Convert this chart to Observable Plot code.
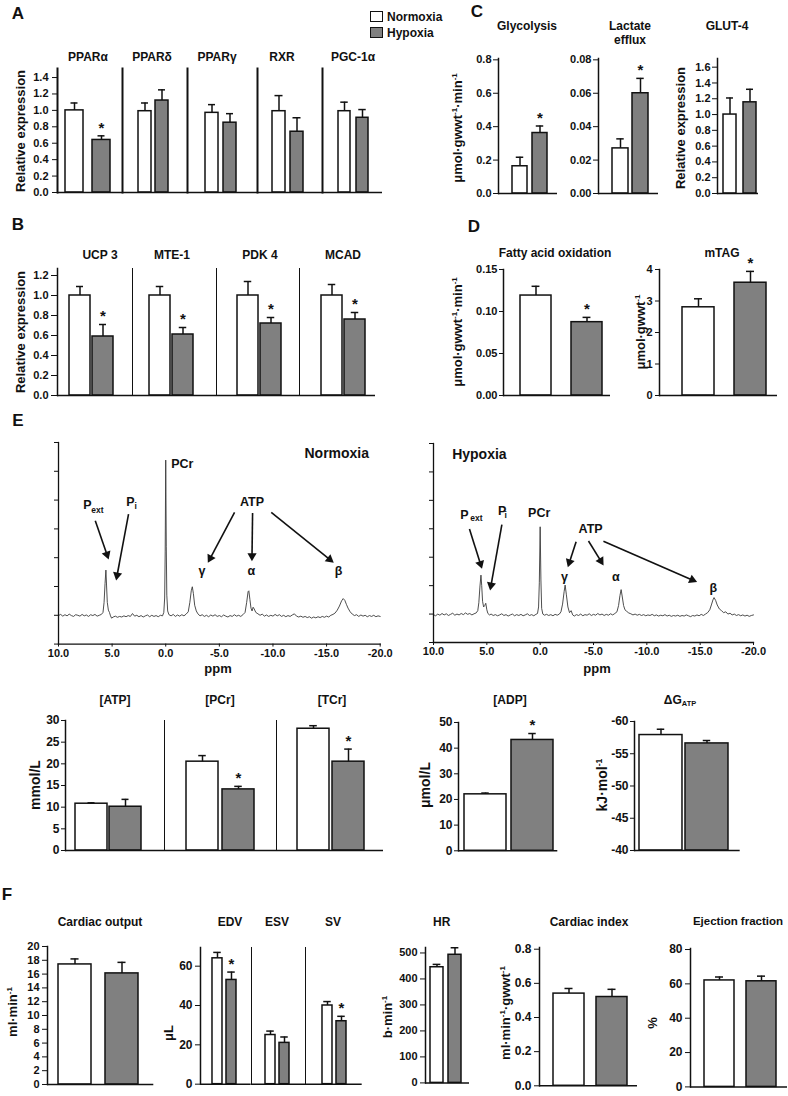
<!DOCTYPE html>
<html><head><meta charset="utf-8">
<script src="https://cdn.jsdelivr.net/npm/d3@7"></script>
<script src="https://cdn.jsdelivr.net/npm/@observablehq/plot@0.6"></script>
<style>
html,body{margin:0;padding:0;background:#fff;}
#page{position:relative;width:788px;height:1096px;overflow:hidden;background:#fff;font-family:"Liberation Sans",Arial,Helvetica,sans-serif;color:#111;}
.t{position:absolute;white-space:nowrap;font-weight:bold;line-height:1;}
.t sup{font-size:0.62em;vertical-align:0.55em;line-height:0;}
.t sub{font-size:0.62em;vertical-align:-0.25em;line-height:0;}
#page svg{position:absolute;}
.box{position:absolute;border:1px solid #111;box-sizing:border-box;}
</style></head><body><div id="page"></div>
<script>
const GROUPS = ["Normoxia", "Hypoxia"];

// ---------- Panel A : nuclear receptors (relative expression)
const A_labels = ["PPARα", "PPARδ", "PPARγ", "RXR", "PGC-1α"];
const A_norm = [1.00, 0.99, 0.97, 0.99, 0.99];
const A_normSem = [0.09, 0.10, 0.10, 0.19, 0.11];
const A_hyp = [0.64, 1.12, 0.85, 0.74, 0.91];
const A_hypSem = [0.05, 0.13, 0.11, 0.17, 0.10];
const A_sig = [true, false, false, false, false];
const A_ticks = [0, 0.2, 0.4, 0.6, 0.8, 1.0, 1.2, 1.4];

// ---------- Panel B : PPARα targets
const B_labels = ["UCP 3", "MTE-1", "PDK 4", "MCAD"];
const B_norm = [1.00, 1.00, 1.00, 1.00];
const B_normSem = [0.09, 0.09, 0.14, 0.11];
const B_hyp = [0.59, 0.61, 0.72, 0.76];
const B_hypSem = [0.12, 0.07, 0.06, 0.07];
const B_sig = [true, true, true, true];
const B_ticks = [0, 0.2, 0.4, 0.6, 0.8, 1.0, 1.2];

// ---------- Panel C
const C_labels = ["Glycolysis", "Lactate efflux", "GLUT-4"];
const C_norm = [0.163, 0.027, 1.00];
const C_normSem = [0.054, 0.0057, 0.21];
const C_hyp = [0.362, 0.060, 1.155];
const C_hypSem = [0.042, 0.0089, 0.165];
const C_sig = [true, true, false];
const C_ticksGly = [0, 0.2, 0.4, 0.6, 0.8];
const C_ticksLac = [0, 0.02, 0.04, 0.06, 0.08];
const C_ticksGlut = [0, 0.2, 0.4, 0.6, 0.8, 1.0, 1.2, 1.4, 1.6];

// ---------- Panel D
const D_labels = ["Fatty acid oxidation", "mTAG"];
const D_norm = [0.119, 2.80];
const D_normSem = [0.011, 0.27];
const D_hyp = [0.0873, 3.58];
const D_hypSem = [0.0057, 0.36];
const D_sig = [true, true];
const D_ticksFao = [0, 0.05, 0.10, 0.15];
const D_ticksTag = [0, 1, 2, 3, 4];

// ---------- Panel E : 31P spectra (ppm, intensity pairs)
const E_specNorm = [
10.0,0.99, 9.8,1.03, 9.6,0.97, 9.4,1.02, 9.2,0.98, 9.0,1.04, 8.8,0.99, 8.6,0.96, 8.4,1.02, 8.2,1.00, 8.0,0.97, 7.8,1.03, 7.6,0.98, 7.4,1.01, 7.2,0.96, 7.0,1.02, 6.8,0.99, 6.6,1.03, 6.4,0.97, 6.2,1.00, 6.0,1.03, 5.85,1.10, 5.75,1.45, 5.66,2.10, 5.58,2.57, 5.52,2.05, 5.45,1.45, 5.35,1.18, 5.25,1.10, 5.15,0.98, 5.05,0.90, 4.9,0.94, 4.7,0.97, 4.5,0.93, 4.3,0.96, 4.1,0.94, 3.9,0.98, 3.7,0.95, 3.5,0.99, 3.3,0.96, 3.1,1.06, 2.9,0.97, 2.7,1.00, 2.5,0.95, 2.3,0.99, 2.1,0.94, 1.9,0.98, 1.7,1.01, 1.5,0.95, 1.3,1.00, 1.1,0.96, 0.9,0.99, 0.7,0.95, 0.5,1.00, 0.3,0.98, 0.18,1.10, 0.1,1.6, 0.05,3.2, 0.0,6.39, -0.05,3.4, -0.1,1.7, -0.18,1.15, -0.3,1.02, -0.5,0.98, -0.7,1.03, -0.9,0.96, -1.1,1.01, -1.3,0.97, -1.5,1.02, -1.7,0.98, -1.9,1.04, -2.1,1.12, -2.25,1.45, -2.38,1.85, -2.48,1.99, -2.58,1.75, -2.7,1.35, -2.85,1.15, -3.0,1.05, -3.2,0.98, -3.4,1.02, -3.6,0.96, -3.8,1.00, -4.0,0.95, -4.2,1.01, -4.4,0.97, -4.6,1.02, -4.8,0.96, -5.0,0.99, -5.2,0.95, -5.4,1.01, -5.6,0.97, -5.8,0.94, -6.0,0.99, -6.2,0.96, -6.4,1.02, -6.6,0.97, -6.8,1.00, -7.0,0.96, -7.2,1.02, -7.4,1.10, -7.55,1.45, -7.68,1.82, -7.75,1.85, -7.85,1.55, -7.95,1.25, -8.05,1.15, -8.15,1.28, -8.25,1.22, -8.4,1.10, -8.6,1.05, -8.8,1.00, -9.0,1.04, -9.2,0.97, -9.4,1.01, -9.6,0.96, -9.8,1.00, -10.0,0.97, -10.2,1.03, -10.4,0.98, -10.6,1.02, -10.8,0.96, -11.0,1.00, -11.2,0.95, -11.4,0.99, -11.6,0.96, -11.8,1.01, -12.0,1.05, -12.2,0.97, -12.4,0.94, -12.6,0.97, -12.8,0.93, -13.0,0.96, -13.2,0.92, -13.4,0.95, -13.6,0.90, -13.8,0.94, -14.0,0.91, -14.2,0.95, -14.4,0.92, -14.6,0.96, -14.8,0.93, -15.0,0.97, -15.2,0.94, -15.4,1.00, -15.6,1.03, -15.8,1.08, -16.0,1.18, -16.2,1.32, -16.4,1.50, -16.55,1.58, -16.7,1.52, -16.85,1.38, -17.0,1.25, -17.2,1.12, -17.4,1.04, -17.6,0.99, -17.8,1.02, -18.0,0.96, -18.2,1.01, -18.4,0.97, -18.6,1.00, -18.8,0.95, -19.0,0.99, -19.2,0.96, -19.4,1.00, -19.6,0.95, -19.8,0.98, -20.0,0.96
];
const E_specHyp = [
10.0,0.98, 9.8,0.94, 9.6,1.00, 9.4,0.96, 9.2,1.02, 9.0,0.97, 8.8,1.01, 8.6,0.95, 8.4,0.99, 8.2,1.03, 8.0,0.96, 7.8,1.00, 7.6,0.97, 7.4,1.02, 7.2,0.98, 7.0,1.04, 6.8,0.99, 6.6,1.02, 6.4,0.97, 6.2,1.01, 6.0,1.04, 5.85,1.12, 5.75,1.40, 5.65,1.95, 5.55,2.37, 5.48,2.00, 5.4,1.45, 5.3,1.25, 5.2,1.30, 5.1,1.38, 5.0,1.15, 4.9,1.02, 4.75,0.97, 4.6,1.00, 4.4,0.95, 4.2,0.98, 4.0,0.94, 3.8,0.97, 3.6,1.01, 3.4,0.95, 3.2,0.98, 3.0,0.93, 2.8,0.97, 2.6,1.00, 2.4,0.94, 2.2,0.98, 2.0,0.95, 1.8,0.99, 1.6,0.94, 1.4,0.97, 1.2,1.01, 1.0,0.95, 0.8,0.98, 0.6,0.94, 0.4,0.99, 0.25,1.02, 0.15,1.25, 0.08,2.1, 0.0,4.07, -0.07,2.2, -0.14,1.2, -0.25,1.00, -0.4,0.96, -0.6,0.99, -0.8,0.95, -1.0,0.98, -1.2,0.94, -1.4,0.99, -1.6,0.96, -1.8,1.00, -1.95,1.08, -2.1,1.35, -2.25,1.80, -2.34,2.02, -2.45,1.70, -2.6,1.25, -2.75,1.05, -2.9,1.12, -3.05,0.97, -3.2,0.93, -3.4,0.98, -3.6,0.95, -3.8,1.00, -4.0,0.94, -4.2,0.98, -4.4,0.96, -4.6,1.01, -4.8,0.95, -5.0,0.99, -5.2,0.96, -5.4,1.02, -5.6,0.97, -5.8,1.00, -6.0,0.95, -6.2,0.99, -6.4,0.96, -6.6,1.01, -6.8,0.97, -7.0,1.02, -7.2,1.08, -7.35,1.30, -7.48,1.65, -7.59,1.86, -7.7,1.60, -7.82,1.30, -7.95,1.15, -8.1,1.10, -8.3,1.04, -8.5,1.01, -8.7,0.97, -8.9,1.00, -9.1,0.96, -9.3,0.99, -9.5,0.95, -9.7,0.98, -9.9,0.94, -10.1,0.97, -10.3,0.95, -10.5,0.99, -10.7,0.94, -10.9,0.97, -11.1,0.93, -11.3,0.96, -11.5,0.94, -11.7,0.98, -11.9,0.93, -12.1,0.96, -12.3,0.92, -12.5,0.95, -12.7,0.93, -12.9,0.96, -13.1,0.92, -13.3,0.95, -13.5,0.93, -13.7,0.97, -13.9,0.94, -14.1,0.91, -14.3,0.95, -14.5,0.93, -14.7,0.97, -14.9,0.94, -15.1,0.99, -15.3,0.95, -15.5,1.00, -15.7,1.05, -15.9,1.15, -16.05,1.32, -16.2,1.50, -16.3,1.58, -16.45,1.48, -16.6,1.32, -16.8,1.18, -17.0,1.12, -17.2,1.05, -17.4,1.08, -17.6,1.00, -17.8,1.03, -18.0,0.97, -18.2,1.00, -18.4,0.95, -18.6,0.98, -18.8,0.94, -19.0,0.97, -19.2,0.93, -19.4,0.96, -19.6,0.92, -19.8,0.95, -20.0,0.97
];
const E_ppmTicks = [10, 5, 0, -5, -10, -15, -20];
// annotations in data units: [text, ppm, intensity]
const E_annNorm = [["Normoxia",-15.95,6.61],["PCr",-0.51,6.27],["P",7.70,4.83],["ext",6.95,4.63],["P",3.68,4.92],["i",2.91,4.80],["ATP",-8.04,4.94],["γ",-3.38,2.55],["α",-7.98,2.55],["β",-16.12,2.55]];
const E_arrNorm = [[6.57,4.28,5.33,2.95],[3.47,4.51,4.62,2.22],[-6.42,4.57,-3.94,2.83],[-8.10,4.55,-8.04,2.89],[-9.84,4.57,-15.65,2.83]];
const E_annHyp = [["Hypoxia",8.25,6.61],["PCr",0.09,4.57],["P",7.50,4.50],["ext",6.56,4.36],["P",3.96,4.61],["i",3.35,4.48],["ATP",-4.73,3.99],["γ",-2.28,2.29],["α",-7.09,2.29],["β",-16.24,1.90]];
const E_arrHyp = [[6.63,3.99,5.46,2.60],[3.59,4.15,4.69,1.84],[-3.37,3.54,-2.60,2.66],[-4.53,3.57,-5.93,2.72],[-5.93,3.56,-14.69,2.13]];

// ---------- Panel E : metabolites
const E_labels = ["[ATP]", "[PCr]", "[TCr]", "[ADP]", "ΔG ATP"];
const E_norm = [10.8, 20.5, 28.1, 22.0, -57.9];
const E_normSem = [0.2, 1.4, 0.7, 0.5, 0.9];
const E_hyp = [10.1, 14.1, 20.5, 43.2, -56.6];
const E_hypSem = [1.7, 0.7, 2.9, 2.5, 0.45];
const E_sig = [false, true, true, true, false];
const E_ticksMM = [0, 5, 10, 15, 20, 25, 30];
const E_ticksADP = [0, 10, 20, 30, 40, 50];
const E_ticksG = [-60, -55, -50, -45, -40];

// ---------- Panel F : cardiac function
const F_labels = ["Cardiac output", "EDV", "ESV", "SV", "HR", "Cardiac index", "Ejection fraction"];
const F_norm = [17.4, 64, 25, 40, 445, 0.54, 62];
const F_normSem = [0.8, 3, 2, 2, 11, 0.03, 2];
const F_hyp = [16.1, 53, 21, 32, 493, 0.52, 61.5];
const F_hypSem = [1.6, 4, 3, 2.5, 27, 0.045, 3];
const F_sig = [false, true, false, true, false, false, false];
const F_ticksCO = [0, 2, 4, 6, 8, 10, 12, 14, 16, 18, 20];
const F_ticksV = [0, 20, 40, 60];
const F_ticksHR = [0, 100, 200, 300, 400, 500];
const F_ticksCI = [0, 0.2, 0.4, 0.6, 0.8];
const F_ticksEF = [0, 20, 40, 60, 80];

// =================== drawing ===================
const page = document.getElementById("page");
const FONT = '"Liberation Sans", Arial, Helvetica, sans-serif';
const INK = "#111";
const GRAY = "#808080";

function label(html, x, y, size, rot = false, anchor = "middle") {
  const d = document.createElement("div");
  d.className = "t";
  d.innerHTML = html;
  d.style.left = x + "px";
  d.style.top = y + "px";
  d.style.fontSize = size + "px";
  let tr = anchor === "start" ? "translate(0,-50%)" : "translate(-50%,-50%)";
  if (rot) tr += " rotate(-90deg)";
  d.style.transform = tr;
  page.appendChild(d);
}
function box(x, y, w, h, fill) {
  const d = document.createElement("div");
  d.className = "box";
  Object.assign(d.style, {left: x + "px", top: y + "px", width: w + "px", height: h + "px", background: fill});
  page.appendChild(d);
}
function rows(norm, normSem, hyp, hypSem, sig, i, dir = 1) {
  return [
    {g: GROUPS[0], v: norm[i], hi: norm[i] + dir * normSem[i], sig: false},
    {g: GROUPS[1], v: hyp[i], hi: hyp[i] + dir * hypSem[i], sig: sig[i]}
  ];
}
function place(svg, left, top) {
  svg.style.left = left + "px";
  svg.style.top = top + "px";
  page.appendChild(svg);
}
function barGroup(L, data) {
  const mL = L.ticks ? 48 : 2, mR = 2, mT = 40, mB = 2;
  const left = L.x0 - mL, top = L.yT - mT;
  const width = L.x1 - L.x0 + mL + mR, height = L.yB - L.yT + mT + mB;
  const step = (L.range[1] - L.range[0]) / (2 - L.pad);
  const bw = step * (1 - L.pad);
  const inset = Math.max(0, (bw - 8) / 2);
  const base = L.domain[0];
  const marks = [
    Plot.barY(data, {x: "g", y1: base, y2: "v", fill: d => d.g === GROUPS[0] ? "#ffffff" : GRAY, stroke: INK, strokeWidth: 1.5}),
    Plot.ruleX(data, {x: "g", y1: "v", y2: "hi", stroke: INK, strokeWidth: 1.5}),
    Plot.tickY(data, {x: "g", y: "hi", stroke: INK, strokeWidth: 1.5, insetLeft: inset, insetRight: inset}),
    Plot.text(data.filter(d => d.sig), {x: "g", y: "hi", text: () => "*", dy: -8, fontSize: 15, fontWeight: "bold", fill: INK}),
    Plot.frame({anchor: "left", stroke: INK, strokeWidth: L.lw || 1.5}),
    Plot.ruleY([base], {stroke: INK, strokeWidth: 1.5})
  ];
  if (L.ticks) marks.push(Plot.axisY({ticks: L.ticks, tickFormat: L.fmt, tickSize: L.ts ?? 5, tickPadding: L.tp ?? 3, label: null, fontSize: L.fs ?? 11}));
  const svg = Plot.plot({
    width, height, marginLeft: mL, marginRight: mR, marginTop: mT, marginBottom: mB,
    x: {type: "band", domain: GROUPS, range: [L.range[0] - left, L.range[1] - left], paddingInner: L.pad, paddingOuter: 0, align: 0.5, axis: null},
    y: L.ticks ? {domain: L.domain} : {domain: L.domain, axis: null},
    style: {background: "transparent", overflow: "visible", fontFamily: FONT, fontWeight: "bold", fontSize: (L.fs ?? 11) + "px", color: INK},
    marks
  });
  place(svg, left, top);
}
function spectrum(L, flat, ann, arr) {
  const pts = [];
  for (let i = 0; i < flat.length; i += 2) pts.push({ppm: flat[i], y: flat[i + 1]});
  const mL = 12, mR = 20, mT = 12, mB = 30;
  const left = L.x0 - mL, top = L.yT - mT;
  const fw = L.x1 - L.x0, fh = L.yB - L.yT;
  const width = fw + mL + mR, height = fh + mT + mB;
  const kx = fw / 30, ky = fh / 7;     // pixels per ppm / per intensity unit
  const headBack = 5;                 // triangle centroid sits behind the tip
  const arrows = arr.map(([x1, y1, x2, y2]) => {
    const dxp = -(x2 - x1) * kx, dyp = -(y2 - y1) * ky;
    const len = Math.hypot(dxp, dyp), ux = dxp / len, uy = dyp / len;
    return {x1, y1, x2, y2,
      hx: x2 + headBack * ux / kx, hy: y2 + headBack * uy / ky,
      rot: Math.atan2(ux, -uy) * 180 / Math.PI};
  });
  const sizeOf = t => (t === "Normoxia" || t === "Hypoxia") ? 14 : (t === "ext" || t === "i") ? 8.5 : 12.5;
  const anchorOf = t => (t === "Normoxia" || t === "γ" || t === "α" || t === "β" || t === "ATP" || (t === "PCr" && L.pcrMid)) ? "middle" : "start";
  const marks = [
    Plot.line(pts, {x: "ppm", y: "y", stroke: "#3a3a3a", strokeWidth: 0.9}),
    Plot.link(arrows, {x1: "x1", y1: "y1", x2: "hx", y2: "hy", stroke: INK, strokeWidth: 1.6}),
    Plot.dot(arrows, {x: "hx", y: "hy", symbol: "triangle", r: 3.4, fill: INK, stroke: "none", rotate: "rot"}),
    Plot.frame({anchor: "left", stroke: INK, strokeWidth: 1.3}),
    Plot.frame({anchor: "bottom", stroke: INK, strokeWidth: 1.3}),
    Plot.axisX({ticks: E_ppmTicks, tickFormat: d => d.toFixed(1), tickSize: 3, tickPadding: 2, label: null, fontSize: 11}),
    Plot.axisY({ticks: d3.range(0, 8), tickFormat: () => "", tickSize: 4, label: null})
  ];
  ann.forEach(([t, x, y]) => {
    marks.push(Plot.text([{t, x, y}], {x: "x", y: "y", text: "t", fontSize: sizeOf(t), fontWeight: "bold", textAnchor: anchorOf(t), fill: INK}));
  });
  const svg = Plot.plot({
    width, height, marginLeft: mL, marginRight: mR, marginTop: mT, marginBottom: mB,
    x: {domain: [10, -20]}, y: {domain: [0, 7]},
    style: {background: "transparent", overflow: "visible", fontFamily: FONT, fontWeight: "bold", fontSize: "11px", color: INK},
    marks
  });
  place(svg, left, top);
}

const f1 = d3.format(".1f"), f2 = d3.format(".2f"), fi = d => String(d);

// ----- Panel A
const A_lay = [
  {x0: 57, x1: 122, range: [64, 111], pad: 0.32, ticks: A_ticks, fmt: f1, ts: 5, tp: 4},
  {x0: 122, x1: 187, range: [137, 169], pad: 0.22},
  {x0: 187, x1: 257, range: [204, 237], pad: 0.26},
  {x0: 257, x1: 322, range: [272, 303], pad: 0.28},
  {x0: 322, x1: 382, range: [338, 369], pad: 0.32}
];
const A_titleX = [88, 152, 217, 282, 353];
A_lay.forEach((L, i) => {
  barGroup({...L, yT: 68, yB: 192, domain: [0, 1.51], lw: 2}, rows(A_norm, A_normSem, A_hyp, A_hypSem, A_sig, i));
  label(A_labels[i], A_titleX[i], 57, 12);
});
label("Relative expression", 20, 131, 13, true);
label("A", 18, 13, 17);
box(370, 11, 13, 11, "#fff"); box(370, 27, 13, 11, GRAY);
label("Normoxia", 387, 17, 12, false, "start");
label("Hypoxia", 387, 33, 12, false, "start");

// ----- Panel B
const B_lay = [
  {x0: 57, x1: 132, range: [68, 114], pad: 0.083, ticks: B_ticks, fmt: f1, ts: 6, tp: 3, lw: 1.5},
  {x0: 132, x1: 216, range: [149, 194], pad: 0.083, lw: 1},
  {x0: 216, x1: 299, range: [237, 282], pad: 0.083, lw: 1},
  {x0: 299, x1: 375, range: [321, 366], pad: 0.083, lw: 1}
];
const B_titleX = [100, 172, 260, 343];
B_lay.forEach((L, i) => {
  barGroup({...L, yT: 268, yB: 395, domain: [0, 1.27]}, rows(B_norm, B_normSem, B_hyp, B_hypSem, B_sig, i));
  label(B_labels[i], B_titleX[i], 255, 12);
});
label("Relative expression", 20, 332, 13, true);
label("B", 18, 224, 17);

// ----- Panel C
barGroup({x0: 498, x1: 557, yT: 58, yB: 193, domain: [0, 0.808], range: [512, 548], pad: 0.24, ticks: C_ticksGly, fmt: f1, ts: 5, tp: 2}, rows(C_norm, C_normSem, C_hyp, C_hypSem, C_sig, 0));
barGroup({x0: 598, x1: 658, yT: 58, yB: 193, domain: [0, 0.0808], range: [612, 649], pad: 0.19, ticks: C_ticksLac, fmt: f2, ts: 5, tp: 2}, rows(C_norm, C_normSem, C_hyp, C_hypSem, C_sig, 1));
barGroup({x0: 717, x1: 758, yT: 58, yB: 193, domain: [0, 1.71], range: [722, 757], pad: 0.33, ticks: C_ticksGlut, fmt: f1, ts: 5, tp: 2}, rows(C_norm, C_normSem, C_hyp, C_hypSem, C_sig, 2));
label(C_labels[0], 527, 26, 12);
label("Lactate", 630, 26, 12); label("efflux", 630, 40, 12);
label(C_labels[2], 727, 26, 12);
label("μmol·gwwt<sup>-1</sup>·min<sup>-1</sup>", 457, 128, 13, true);
label("Relative expression", 680, 128, 13, true);
label("C", 477, 11, 17);

// ----- Panel D
barGroup({x0: 503, x1: 610, yT: 269, yB: 395, domain: [0, 0.15], range: [519, 602], pad: 0.40, ticks: D_ticksFao, fmt: f2, ts: 4, tp: 2}, rows(D_norm, D_normSem, D_hyp, D_hypSem, D_sig, 0));
barGroup({x0: 659, x1: 777, yT: 269, yB: 395, domain: [0, 4], range: [682, 766], pad: 0.385, ticks: D_ticksTag, fmt: fi, ts: 4, tp: 3}, rows(D_norm, D_normSem, D_hyp, D_hypSem, D_sig, 1));
label(D_labels[0], 555, 253, 12);
label(D_labels[1], 722, 253, 12);
label("μmol·gwwt<sup>-1</sup>·min<sup>-1</sup>", 457, 332, 13, true);
label("μmol·gwwt<sup>-1</sup>", 640, 332, 13, true);
label("D", 474, 226, 17);

// ----- Panel E spectra
spectrum({x0: 58.3, x1: 380, yT: 441.7, yB: 643.3}, E_specNorm, E_annNorm, E_arrNorm);
spectrum({x0: 433.3, x1: 753.3, yT: 443.3, yB: 642.3, pcrMid: true}, E_specHyp, E_annHyp, E_arrHyp);
label("ppm", 218, 668, 13);
label("ppm", 597, 668, 13);
label("E", 18, 420, 17);

// ----- Panel E metabolite bars
const E_lay = [
  {x0: 65, x1: 164, range: [74, 142], pad: 0.057, ticks: E_ticksMM, fmt: fi, ts: 4, tp: 2, fs: 12, lw: 1.5},
  {x0: 164, x1: 276, range: [186, 255], pad: 0.11, lw: 1},
  {x0: 276, x1: 383, range: [296, 364], pad: 0.09, lw: 1}
];
E_lay.forEach((L, i) => barGroup({...L, yT: 720, yB: 850, domain: [0, 30]}, rows(E_norm, E_normSem, E_hyp, E_hypSem, E_sig, i)));
barGroup({x0: 457.7, x1: 557, yT: 721.7, yB: 850, domain: [0, 50], range: [463, 553], pad: 0.104, ticks: E_ticksADP, fmt: fi, ts: 4, tp: 2, fs: 12}, rows(E_norm, E_normSem, E_hyp, E_hypSem, E_sig, 3));
barGroup({x0: 634.3, x1: 740, yT: 721, yB: 850, domain: [-40, -60], range: [639, 729], pad: 0.064, ticks: E_ticksG, fmt: fi, ts: 4, tp: 2, fs: 12}, rows(E_norm, E_normSem, E_hyp, E_hypSem, E_sig, 4, -1));
[115, 220, 332, 510].forEach((x, i) => label(E_labels[i], x, 700, 12));
label("ΔG<sub>ATP</sub>", 680, 700, 12);
label("mmol/L", 35, 785, 14, true);
label("μmol/L", 425, 785, 14, true);
label("kJ·mol<sup>-1</sup>", 602, 785, 14, true);

// ----- Panel F
barGroup({x0: 46.7, x1: 153, yT: 946, yB: 1084, domain: [0, 20], range: [58, 138], pad: 0.30, ticks: F_ticksCO, fmt: fi, ts: 5, tp: 3}, rows(F_norm, F_normSem, F_hyp, F_hypSem, F_sig, 0));
const F_vol = [
  {x0: 200, x1: 250.7, range: [212, 237], ticks: F_ticksV, fmt: fi, ts: 5, tp: 3, fs: 12, lw: 1.5},
  {x0: 250.7, x1: 305, range: [264, 289], lw: 1},
  {x0: 305, x1: 361.7, range: [322, 347], lw: 1}
];
F_vol.forEach((L, i) => barGroup({...L, yT: 947.3, yB: 1084, domain: [0, 69.5], pad: 0.276}, rows(F_norm, F_normSem, F_hyp, F_hypSem, F_sig, i + 1)));
barGroup({x0: 425, x1: 469, yT: 947.3, yB: 1082.7, domain: [0, 521], range: [429, 461], pad: 0.29, ticks: F_ticksHR, fmt: fi, ts: 5, tp: 3}, rows(F_norm, F_normSem, F_hyp, F_hypSem, F_sig, 4));
barGroup({x0: 539, x1: 637, yT: 946.7, yB: 1085, domain: [0, 0.81], range: [553, 627], pad: 0.28, ticks: F_ticksCI, fmt: f1, ts: 5, tp: 3, fs: 12}, rows(F_norm, F_normSem, F_hyp, F_hypSem, F_sig, 5));
barGroup({x0: 690, x1: 787, yT: 948.3, yB: 1086.7, domain: [0, 80.6], range: [704, 776], pad: 0.286, ticks: F_ticksEF, fmt: fi, ts: 5, tp: 3, fs: 12}, rows(F_norm, F_normSem, F_hyp, F_hypSem, F_sig, 6));
[100, 230, 277, 333, 441.7, 589].forEach((x, i) => label(F_labels[i], x, 921.7, 12));
label(F_labels[6], 738, 921.7, 11.5);
label("ml·min<sup>-1</sup>", 12, 1012, 13, true);
label("μL", 168, 1033, 13, true);
label("b·min<sup>-1</sup>", 387, 1017, 13, true);
label("ml·min<sup>-1</sup>·gwwt<sup>-1</sup>", 505, 1013, 13, true);
label("%", 652, 1023, 13, true);
label("F", 7, 894, 17);
</script></body></html>
